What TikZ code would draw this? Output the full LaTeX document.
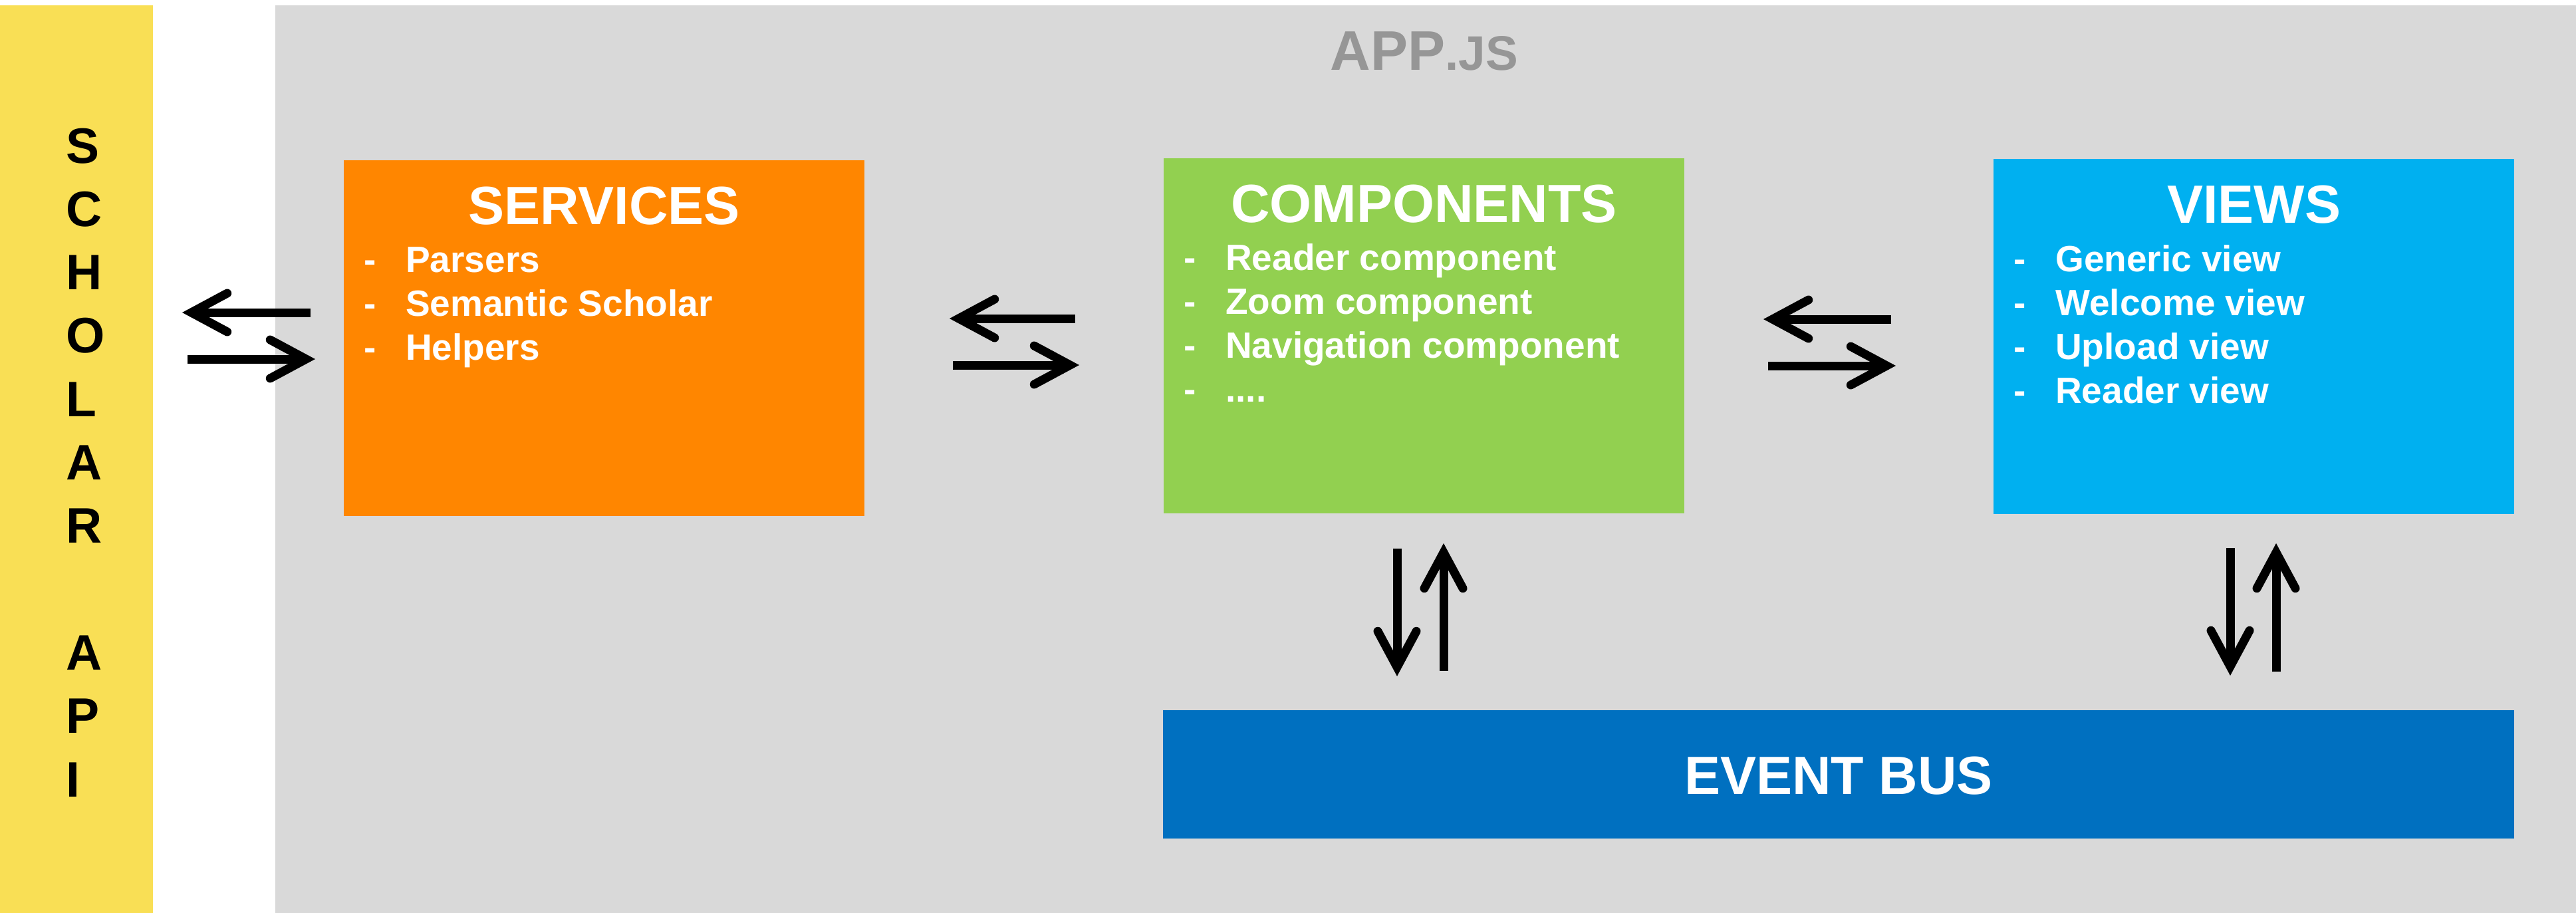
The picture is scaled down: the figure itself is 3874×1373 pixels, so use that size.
\documentclass[tikz,border=0pt]{standalone}
\usepackage{fontspec}
\setmainfont{Liberation Sans}
\usetikzlibrary{arrows.meta}

\definecolor{apiyellow}{HTML}{F9DF55}
\definecolor{appgray}{HTML}{D9D9D9}
\definecolor{titlegray}{HTML}{969696}
\definecolor{svcorange}{HTML}{FF8600}
\definecolor{cmpgreen}{HTML}{92D050}
\definecolor{viewblue}{HTML}{00B0F0}
\definecolor{busblue}{HTML}{0070C0}

% four dots closing the component list
\newcommand{\moreitems}{.\kern0pt.\kern0pt.\kern0pt.}

\begin{document}
\begin{tikzpicture}[x=1pt, y=-1pt,
  block/.style={inner sep=0pt, outer sep=0pt, anchor=north west, draw=none},
  heading/.style={text=white, font=\fontsize{81}{81}\selectfont\bfseries, inner sep=0pt, anchor=base},
  entry/.style={text=white, font=\fontsize{55}{55}\selectfont\bfseries, inner sep=0pt, anchor=base west},
  letter/.style={text=black, font=\fontsize{75}{75}\selectfont\bfseries, inner sep=0pt, anchor=base west},
  flow/.style={line width=13pt, draw=black,
    -{Straight Barb[length=54pt, width=58pt, line cap=round, line join=miter]}},
]

% page
\fill[white] (0,0) rectangle (3874,1373);

% panels
\node[block, fill=apiyellow, minimum width=230pt, minimum height=1365pt] (api) at (0,8) {};
\node[block, fill=appgray, minimum width=3460pt, minimum height=1365pt] (app) at (414,8) {};
\node[block, fill=svcorange, minimum width=783pt, minimum height=535pt] (svc) at (517,241) {};
\node[block, fill=cmpgreen, minimum width=783pt, minimum height=534pt] (cmp) at (1750,238) {};
\node[block, fill=viewblue, minimum width=783pt, minimum height=534pt] (view) at (2998,239) {};
\node[block, fill=busblue, minimum width=2032pt, minimum height=193pt] (bus) at (1749,1068) {};

% application title
\node[anchor=base, text=titlegray, inner sep=0pt, font=\bfseries] (apptitle)
  at ([shift={(-2,97)}]app.north)
  {{\fontsize{84}{84}\selectfont APP}{\fontsize{73}{73}\selectfont .JS}};

% vertical label of the external API
\foreach \ch/\r in {S/0,C/1,H/2,O/3,L/4,A/5,R/6,A/8,P/9,I/10}
  \node[letter] (api\r) at (99,{245+95.3*\r}) {\ch};

% block headings
\node[heading, yshift=-96pt] (svctitle) at (svc.north) {SERVICES};
\node[heading, yshift=-96pt] (cmptitle) at (cmp.north) {COMPONENTS};
\node[heading, yshift=-96pt] (viewtitle) at (view.north) {VIEWS};
\node[heading, yshift=-30pt] (bustitle) at (bus.center) {EVENT BUS};

% bullet lists
\foreach \txt [count=\k from 0] in {Parsers, Semantic Scholar, Helpers} {
  \node[entry, xshift=30pt, yshift={(-168-66*\k)*1pt}] (svcdash\k) at (svc.north west) {-};
  \node[entry, xshift=93pt, yshift={(-168-66*\k)*1pt}] (svcitem\k) at (svc.north west) {\txt};
}
\foreach \txt [count=\k from 0] in {Reader component, Zoom component, Navigation component, \moreitems} {
  \node[entry, xshift=30pt, yshift={(-168-66*\k)*1pt}] (cmpdash\k) at (cmp.north west) {-};
  \node[entry, xshift=93pt, yshift={(-168-66*\k)*1pt}] (cmpitem\k) at (cmp.north west) {\txt};
}
\foreach \txt [count=\k from 0] in {Generic view, Welcome view, Upload view, Reader view} {
  \node[entry, xshift=30pt, yshift={(-169-66*\k)*1pt}] (viewdash\k) at (view.north west) {-};
  \node[entry, xshift=93pt, yshift={(-169-66*\k)*1pt}] (viewitem\k) at (view.north west) {\txt};
}

% API <-> services
\draw[flow] ([shift={(-50,229)}]svc.north west) -- ([shift={(44,462)}]api.north east);
\draw[flow] ([shift={(52,532)}]api.north east) -- ([shift={(-43,299)}]svc.north west);

% services <-> components
\draw[flow] ([shift={(-133,241)}]cmp.north west) -- ([shift={(128,238)}]svc.north east);
\draw[flow] ([shift={(133,308)}]svc.north east) -- ([shift={(-127,311)}]cmp.north west);

% components <-> views
\draw[flow] ([shift={(-154,241)}]view.north west) -- ([shift={(119,242)}]cmp.north east);
\draw[flow] ([shift={(126,312)}]cmp.north east) -- ([shift={(-147,311)}]view.north west);

% components <-> event bus
\draw[flow] ([shift={(351,53)}]cmp.south west) -- ([shift={(352,-51)}]bus.north west);
\draw[flow] ([shift={(422,-59)}]bus.north west) -- ([shift={(421,45)}]cmp.south west);

% views <-> event bus
\draw[flow] ([shift={(356,51)}]view.south west) -- ([shift={(1605,-52)}]bus.north west);
\draw[flow] ([shift={(1674,-58)}]bus.north west) -- ([shift={(425,44)}]view.south west);

\end{tikzpicture}
\end{document}
